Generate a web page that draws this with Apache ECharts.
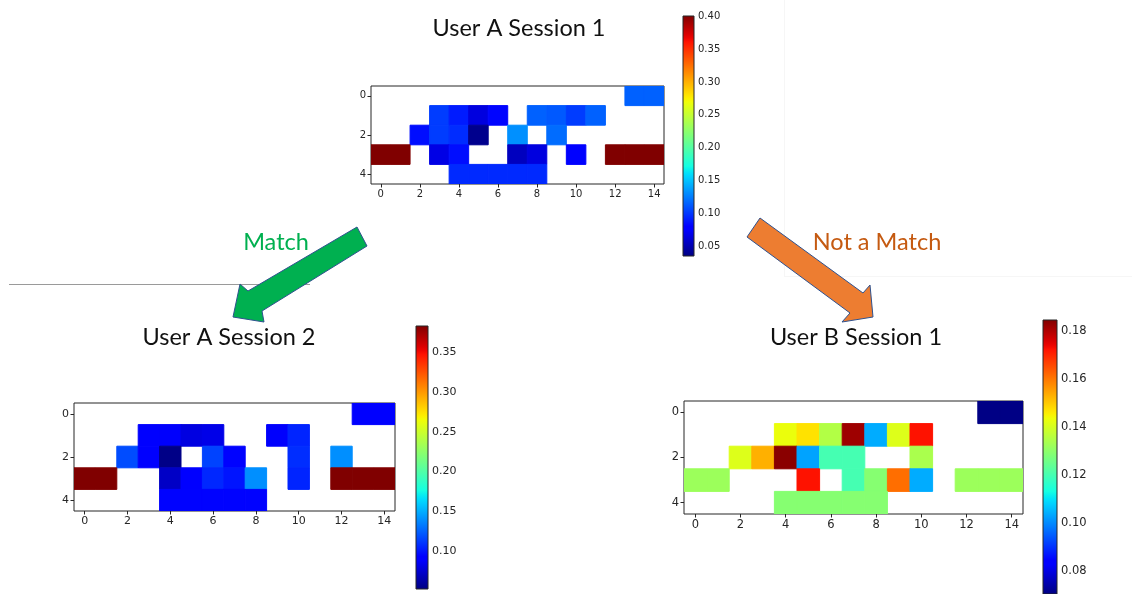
<!DOCTYPE html>
<html>
<head>
<meta charset="utf-8">
<script src="https://cdn.jsdelivr.net/npm/echarts@6/dist/echarts.min.js"></script>
<style>
  html, body { margin: 0; padding: 0; background: #fff; }
  #chart { width: 1132px; height: 594px; }
</style>
</head>
<body>
<div id="chart"></div>
<script>
// Keystroke-timing heatmaps: 5 rows x 15 columns, empty cells are null
const columns = ['0','1','2','3','4','5','6','7','8','9','10','11','12','13','14'];
const rows = ['0','1','2','3','4'];
const _ = null;

const userASession1 = [
  [_, _, _, _, _, _, _, _, _, _, _, _, _, 0.116, 0.116],
  [_, _, _, 0.103, 0.091, 0.066, 0.083, _, 0.116, 0.113, 0.103, 0.116, _, _, _],
  [_, _, 0.086, 0.103, 0.097, 0.040, _, 0.133, _, 0.120, _, _, _, _, _],
  [0.40, 0.40, _, 0.068, 0.086, _, _, 0.056, 0.066, _, 0.082, _, 0.40, 0.40, 0.40],
  [_, _, _, _, 0.096, 0.096, 0.096, 0.096, 0.096, _, _, _, _, _, _]
];

const userASession2 = [
  [_, _, _, _, _, _, _, _, _, _, _, _, _, 0.092, 0.092],
  [_, _, _, 0.093, 0.088, 0.080, 0.082, _, _, 0.088, 0.105, _, _, _, _],
  [_, _, 0.118, 0.093, 0.054, _, 0.115, 0.094, _, _, 0.108, _, 0.140, _, _],
  [0.383, 0.383, _, _, 0.072, 0.093, 0.106, 0.100, 0.140, _, 0.105, _, 0.383, 0.383, 0.383],
  [_, _, _, _, 0.094, 0.094, 0.094, 0.094, 0.094, _, _, _, _, _, _]
];

const userBSession1 = [
  [_, _, _, _, _, _, _, _, _, _, _, _, _, 0.071, 0.071],
  [_, _, _, _, 0.143, 0.147, 0.135, 0.1815, 0.104, 0.141, 0.172, _, _, _, _],
  [_, _, 0.141, 0.153, 0.1835, 0.103, 0.120, 0.120, _, _, 0.134, _, _, _, _],
  [0.132, 0.132, _, _, _, 0.172, _, 0.120, 0.129, 0.161, 0.104, _, 0.132, 0.132, 0.132],
  [_, _, _, _, 0.129, 0.129, 0.129, 0.129, 0.129, _, _, _, _, _, _]
];

// Colour-scale limits and colorbar tick labels
const rangeA1 = [0.036, 0.40];
const rangeA2 = [0.052, 0.383];
const rangeB1 = [0.0705, 0.1845];
const ticksA1 = [0.05, 0.10, 0.15, 0.20, 0.25, 0.30, 0.35, 0.40];
const ticksA2 = [0.10, 0.15, 0.20, 0.25, 0.30, 0.35];
const ticksB1 = [0.08, 0.10, 0.12, 0.14, 0.16, 0.18];

const panelTitles = ['User A Session 1', 'User A Session 2', 'User B Session 1'];
const matchLabel = 'Match';
const noMatchLabel = 'Not a Match';

// jet colormap (matplotlib segment definition)
const jetSegments = {
  r: [[0, 0], [0.35, 0], [0.66, 1], [0.89, 1], [1, 0.5]],
  g: [[0, 0], [0.125, 0], [0.375, 1], [0.64, 1], [0.91, 0], [1, 0]],
  b: [[0, 0.5], [0.11, 1], [0.34, 1], [0.65, 0], [1, 0]]
};
function seg(points, t) {
  for (let i = 1; i < points.length; i++) {
    if (t <= points[i][0]) {
      const [t0, v0] = points[i - 1], [t1, v1] = points[i];
      return v0 + (v1 - v0) * (t - t0) / (t1 - t0);
    }
  }
  return points[points.length - 1][1];
}
function jet(t) {
  const c = k => Math.round(255 * seg(jetSegments[k], t));
  return 'rgb(' + c('r') + ',' + c('g') + ',' + c('b') + ')';
}
const JET_STEPS = 64;
const jetColors = [];
for (let i = 0; i <= JET_STEPS; i++) jetColors.push(jet(i / JET_STEPS));
const jetStops = jetColors.map((c, i) => ({ offset: i / JET_STEPS, color: c }));

function toCells(matrix) {
  const out = [];
  matrix.forEach((row, y) => row.forEach((v, x) => { if (v !== null) out.push([x, y, v]); }));
  return out;
}

const FONT = 'DejaVu Sans';
const INK = '#262626';

const panels = [
  { data: userASession1, range: rangeA1, ticks: ticksA1,
    grid: { left: 371, top: 86, width: 293, height: 98 },
    bar: { left: 683, top: 16, width: 11, height: 240 }, fs: 10 },
  { data: userASession2, range: rangeA2, ticks: ticksA2,
    grid: { left: 74, top: 403, width: 321, height: 108 },
    bar: { left: 416, top: 326, width: 12, height: 263 }, fs: 11 },
  { data: userBSession1, range: rangeB1, ticks: ticksB1,
    grid: { left: 684, top: 401, width: 339, height: 113 },
    bar: { left: 1043, top: 320, width: 14, height: 274 }, fs: 11.5 }
];

const grid = [], xAxis = [], yAxis = [], series = [], visualMap = [];

// one filled cell per value; the edge stroke in the same colour closes hairline seams
function renderCell(params, api) {
  const c = api.coord([api.value(0), api.value(1)]);
  const s = api.size([1, 1]);
  const color = api.visual('color');
  return {
    type: 'rect',
    shape: { x: c[0] - s[0] / 2, y: c[1] - s[1] / 2, width: s[0], height: s[1] },
    style: { fill: color, stroke: color, lineWidth: 1 }
  };
}

panels.forEach((p, i) => {
  const gHeat = grid.length;
  grid.push(Object.assign({ show: true, borderColor: INK, borderWidth: 1, backgroundColor: '#fff' }, p.grid));
  const gBar = grid.length;
  grid.push(Object.assign({ show: false }, p.bar));

  const catTick = { show: true, alignWithLabel: true, interval: 1, length: 3.5, lineStyle: { color: INK, width: 1 } };
  const catLabel = { interval: 1, fontSize: p.fs, fontFamily: FONT, color: INK, margin: 5 };

  xAxis.push({ type: 'category', gridIndex: gHeat, data: columns, position: 'bottom', z: 5,
    axisLine: { show: false }, axisTick: catTick, axisLabel: catLabel, splitLine: { show: false } });
  yAxis.push({ type: 'category', gridIndex: gHeat, data: rows, inverse: true, z: 5,
    axisLine: { show: false }, axisTick: catTick, axisLabel: catLabel, splitLine: { show: false } });

  xAxis.push({ type: 'value', gridIndex: gBar, min: 0, max: 1, show: false });
  yAxis.push({ type: 'value', gridIndex: gBar, min: p.range[0], max: p.range[1], position: 'right',
    axisLine: { show: false },
    axisTick: { show: true, customValues: p.ticks, length: 3.5, lineStyle: { color: INK, width: 1 } },
    axisLabel: { customValues: p.ticks, formatter: v => v.toFixed(2), fontSize: p.fs, fontFamily: FONT, color: INK, margin: 4 },
    splitLine: { show: false } });

  const heatIndex = series.length;
  series.push({
    type: 'custom', xAxisIndex: gHeat, yAxisIndex: gHeat, silent: true, animation: false,
    data: toCells(p.data), encode: { x: 0, y: 1 }, renderItem: renderCell, clip: true
  });
  visualMap.push({
    type: 'continuous', show: false, seriesIndex: heatIndex, dimension: 2,
    min: p.range[0], max: p.range[1], inRange: { color: jetColors }
  });

  // colorbar: gradient strip spanning the colour range on its own value axis
  series.push({
    type: 'custom', xAxisIndex: gBar, yAxisIndex: gBar, silent: true, animation: false,
    data: [[0, p.range[0], p.range[1]]],
    encode: { x: 0, y: [1, 2] },
    renderItem: (params, api) => {
      const lo = api.coord([0, api.value(1)]);
      const hi = api.coord([1, api.value(2)]);
      return {
        type: 'rect',
        shape: { x: lo[0], y: hi[1], width: hi[0] - lo[0], height: lo[1] - hi[1] },
        style: { fill: new echarts.graphic.LinearGradient(0, 1, 0, 0, jetStops), stroke: INK, lineWidth: 1 }
      };
    }
  });
});

const TITLE_FONT = 'Lato';
const TITLE_SIZE = '23.5px ';
const graphic = [
  // faint slide frame around the verdict
  { type: 'line', shape: { x1: 784.5, y1: 0, x2: 784.5, y2: 276 }, style: { stroke: '#f6f6f6', lineWidth: 1 }, silent: true },
  { type: 'line', shape: { x1: 784, y1: 276.5, x2: 1132, y2: 276.5 }, style: { stroke: '#f6f6f6', lineWidth: 1 }, silent: true },
  // divider line
  { type: 'line', shape: { x1: 9, y1: 284.5, x2: 310, y2: 284.5 }, style: { stroke: '#9a9a9a', lineWidth: 1 }, silent: true },
  // arrows
  { type: 'polygon', silent: true,
    shape: { points: [[357, 227], [248, 291], [240, 284], [233, 317], [264, 322], [262, 311], [367, 246]] },
    style: { fill: '#00b050', stroke: '#2f528f', lineWidth: 1 } },
  { type: 'polygon', silent: true,
    shape: { points: [[760, 218], [863, 293], [870, 285], [873, 317], [842, 322], [850, 313], [747, 237]] },
    style: { fill: '#ed7d31', stroke: '#2f528f', lineWidth: 1 } },
  // titles and verdicts
  { type: 'text', x: 519, y: 28, silent: true,
    style: { text: panelTitles[0], font: TITLE_SIZE + TITLE_FONT, fill: '#111', align: 'center', verticalAlign: 'middle' } },
  { type: 'text', x: 229, y: 337, silent: true,
    style: { text: panelTitles[1], font: TITLE_SIZE + TITLE_FONT, fill: '#111', align: 'center', verticalAlign: 'middle' } },
  { type: 'text', x: 856, y: 337, silent: true,
    style: { text: panelTitles[2], font: TITLE_SIZE + TITLE_FONT, fill: '#111', align: 'center', verticalAlign: 'middle' } },
  { type: 'text', x: 276, y: 242, silent: true,
    style: { text: matchLabel, font: TITLE_SIZE + TITLE_FONT, fill: '#00b050', align: 'center', verticalAlign: 'middle' } },
  { type: 'text', x: 877, y: 242, silent: true,
    style: { text: noMatchLabel, font: TITLE_SIZE + TITLE_FONT, fill: '#c55a11', align: 'center', verticalAlign: 'middle' } }
];

const chart = echarts.init(document.getElementById('chart'), null, { renderer: 'canvas' });
chart.setOption({
  backgroundColor: '#fff',
  animation: false,
  grid, xAxis, yAxis, series, visualMap, graphic
});
</script>
</body>
</html>
